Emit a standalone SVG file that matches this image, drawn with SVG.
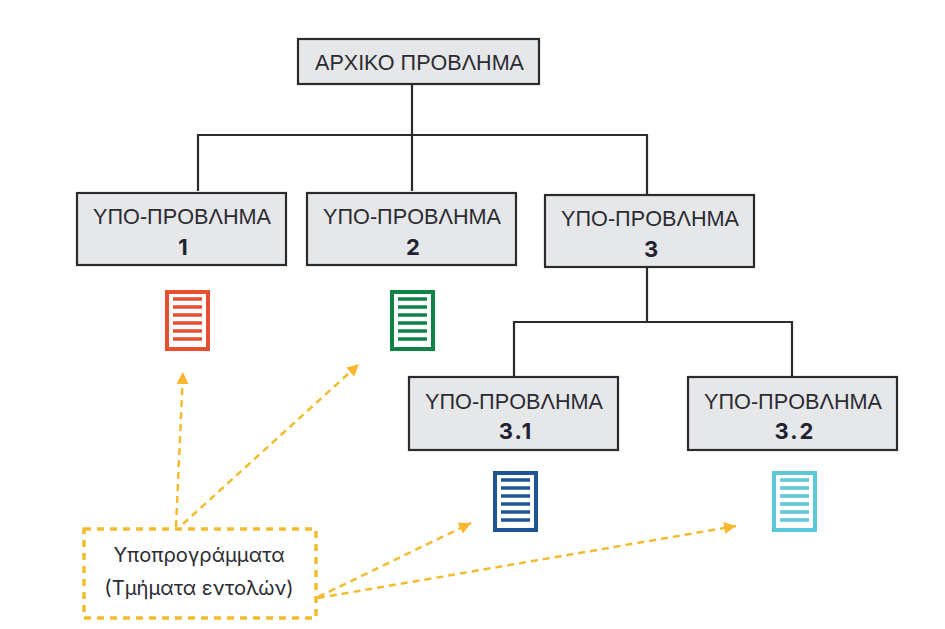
<svg xmlns="http://www.w3.org/2000/svg" width="945" height="629" viewBox="0 0 945 629">
<defs>
<marker id="ah" markerUnits="userSpaceOnUse" markerWidth="14" markerHeight="14" refX="12" refY="6" orient="auto"><path d="M0 0L12 6L0 12Z" fill="#fbb62d"/></marker>
</defs>
<style>
.n{fill:#e6e7e9;stroke:#2b2b2d;stroke-width:2.2}
.c{fill:none;stroke:#2b2b2d;stroke-width:2.2}
.t{font-family:"Liberation Sans",Arial,sans-serif;font-size:22px;fill:#2b2b33;text-anchor:middle}
.b{font-family:"Inter","Liberation Sans",sans-serif;font-size:22px;font-weight:700;letter-spacing:2px;fill:#1f2230;text-anchor:middle}
.d{fill:none;stroke:#f2bc2f;stroke-width:2.5;stroke-dasharray:7 5}
.y{fill:none;stroke:#f2bc2f;stroke-width:3.5;stroke-dasharray:7 6}
.s{font-family:"Inter","Liberation Sans",sans-serif;font-size:20.2px;fill:#2b2b33;text-anchor:middle}
.p{fill:#fff;stroke-width:4}
</style>
<rect width="945" height="629" fill="#fff"/>
<g id="connectors">
<path class="c" d="M412 85V191M198 191V135H647V194M647 267V322M514 377V322H792V376"/>
<path class="d" marker-end="url(#ah)" d="M176 527L183 372"/>
<path class="d" marker-end="url(#ah)" d="M183 524L359 364"/>
<path class="d" marker-end="url(#ah)" d="M318 597L471 523"/>
<path class="d" marker-end="url(#ah)" d="M318 598L736 526"/>
</g>
<g id="root"><rect class="n" x="298" y="39" width="241" height="45"/><text class="t" x="419.500" y="70" textLength="209" lengthAdjust="spacingAndGlyphs">ΑΡΧΙΚΟ ΠΡΟΒΛΗΜΑ</text></g>
<g id="sub1"><rect class="n" x="77" y="193" width="209" height="72"/><text class="t" x="182" y="224" textLength="178" lengthAdjust="spacingAndGlyphs">ΥΠΟ-ΠΡΟΒΛΗΜΑ</text><text class="b" x="184" y="255">1</text></g>
<g id="sub2"><rect class="n" x="307" y="193" width="209" height="72"/><text class="t" x="412" y="224" textLength="178" lengthAdjust="spacingAndGlyphs">ΥΠΟ-ΠΡΟΒΛΗΜΑ</text><text class="b" x="414" y="255">2</text></g>
<g id="sub3"><rect class="n" x="545" y="195" width="209" height="72"/><text class="t" x="650" y="226" textLength="178" lengthAdjust="spacingAndGlyphs">ΥΠΟ-ΠΡΟΒΛΗΜΑ</text><text class="b" x="652" y="257">3</text></g>
<g id="sub31"><rect class="n" x="409" y="377" width="209" height="73"/><text class="t" x="514" y="409" textLength="178" lengthAdjust="spacingAndGlyphs">ΥΠΟ-ΠΡΟΒΛΗΜΑ</text><text class="b" x="516" y="439">3.1</text></g>
<g id="sub32"><rect class="n" x="688" y="377" width="209" height="73"/><text class="t" x="793" y="409" textLength="178" lengthAdjust="spacingAndGlyphs">ΥΠΟ-ΠΡΟΒΛΗΜΑ</text><text class="b" x="795" y="439">3.2</text></g>
<g id="doc1"><rect class="p" x="167" y="292" width="41" height="57" stroke="#e84e30"/><path d="M173 299H202M173 307H202M173 315H202M173 323H202M173 331H202M173 339H202" stroke="#e84e30" stroke-width="3.5" fill="none"/></g>
<g id="doc2"><rect class="p" x="392" y="292" width="41" height="57" stroke="#0f8346"/><path d="M398 299H427M398 307H427M398 315H427M398 323H427M398 331H427M398 339H427" stroke="#0f8346" stroke-width="3.5" fill="none"/></g>
<g id="doc31"><rect class="p" x="495" y="473" width="41" height="57" stroke="#1f5496"/><path d="M501 480H530M501 488H530M501 496H530M501 504H530M501 512H530M501 520H530" stroke="#1f5496" stroke-width="3.5" fill="none"/></g>
<g id="doc32"><rect class="p" x="774" y="473" width="41" height="57" stroke="#5cc8d8"/><path d="M780 480H809M780 488H809M780 496H809M780 504H809M780 512H809M780 520H809" stroke="#5cc8d8" stroke-width="3.5" fill="none"/></g>
<g id="note"><rect class="y" x="84" y="529" width="232" height="89"/><text class="s" x="199" y="562">Υποπρογράμματα</text><text class="s" x="199" y="595">(Τμήματα εντολών)</text></g>
</svg>
